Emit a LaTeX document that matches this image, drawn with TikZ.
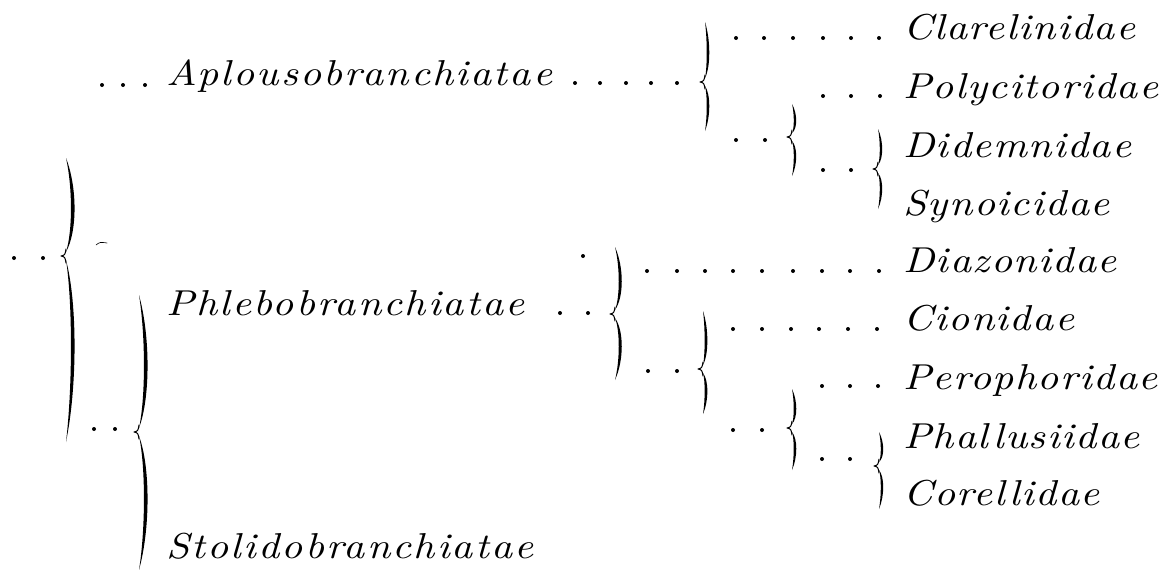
\documentclass[tikz,border=0pt]{standalone}
\usepackage{fontspec}
\newfontfamily\engraved{lmroman10-italic.otf}[FakeStretch=1.15, LetterSpace=4]
\newfontfamily\engravedwide{lmroman10-italic.otf}[FakeStretch=1.15, LetterSpace=6]

% tapered brace: #1 x of the tips, #2 top, #3 cusp, #4 bottom, #5 bulge, #6 half thickness
\newcommand\tbrace[6]{%
  \fill[ink] (#1,#2) .. controls ({#1+#5+#6},{#2+0.3*(#3-#2)}) and ({#1+#5+#6},{#2+0.75*(#3-#2)}) .. (#1,{#3-4})
     .. controls ({#1+#5-#6},{#2+0.75*(#3-#2)}) and ({#1+#5-#6},{#2+0.3*(#3-#2)}) .. cycle;
  \fill[ink] (#1,{#3+4}) .. controls ({#1+#5+#6},{#4-0.75*(#4-#3)}) and ({#1+#5+#6},{#4-0.3*(#4-#3)}) .. (#1,#4)
     .. controls ({#1+#5-#6},{#4-0.3*(#4-#3)}) and ({#1+#5-#6},{#4-0.75*(#4-#3)}) .. cycle;
  \draw[ink, line width=1pt, line cap=round, line join=round]
     (#1,{#3-7}) .. controls ({#1-1},{#3-1}) .. ({#1-5},#3) .. controls ({#1-1},{#3+1}) .. (#1,{#3+7});
}

\begin{document}
\begin{tikzpicture}[x=1pt,y=-1pt]
\tikzset{
  ink/.style={black},
  taxon/.style={anchor=base west, inner sep=0pt, text=black,
                font=\engraved\fontsize{36}{36}\selectfont},
  suborder/.style={taxon, font=\engravedwide\fontsize{36}{36}\selectfont},
}
\useasboundingbox (0,0) rectangle (1168,570);

% suborders
\node[suborder] (aplous)  at (166,85)  {Aplousobranchiatae};
\node[suborder] (phlebo)  at (166,315) {Phlebobranchiatae};
\node[suborder] (stolido) at (166,558) {Stolidobranchiatae};

% families
\node[taxon] (clarel) at (903,39)  {Clarelinidae};
\node[taxon] (polyc)  at (903,98)  {Polycitoridae};
\node[taxon] (didem)  at (903,157) {Didemnidae};
\node[taxon] (synoi)  at (903,215) {Synoicidae};
\node[taxon] (diazo)  at (903,272) {Diazonidae};
\node[taxon] (cioni)  at (903,330) {Cionidae};
\node[taxon] (perop)  at (903,389) {Perophoridae};
\node[taxon] (phall)  at (903,448) {Phallusiidae};
\node[taxon] (corel)  at (903,505) {Corellidae};

% dotted leaders
\foreach \x/\y in {14/258, 43/258,
    102/85, 123/85, 145/85,
    575/83, 600/83, 626/83, 651/83, 677/83,
    736/38, 764/38, 793/38, 823/38, 851/38, 879/38,
    823/96, 851/96, 880/96,
    736/140, 765/140,
    823/170, 851/170,
    94/429, 115/429,
    560/313, 588/313, 583/256,
    647/271, 677/271, 705/271, 733/271, 762/271, 793/271, 822/271, 850/271, 879/271,
    733/329, 762/329, 791/329, 819/329, 848/329, 877/329,
    648/371, 677/371,
    822/386, 850/386, 878/386,
    733/430, 762/430,
    822/459, 850/459}
  \fill[ink] (\x,\y) circle[radius=2pt];

% braces
\tbrace{66}{158}{256}{442}{9}{2.4}
\tbrace{139}{295}{432}{570}{9}{2.4}
\tbrace{705}{22}{82}{131}{4}{1.7}
\tbrace{615}{247}{314}{380}{7}{2}
\tbrace{792}{104}{137}{176}{4}{1.6}
\tbrace{878}{129}{169}{209}{4}{1.6}
\tbrace{703}{311}{369}{414}{4}{1.8}
\tbrace{792}{389}{428}{470}{4}{1.7}
\tbrace{879}{432}{466}{509}{4}{1.6}

% small stray tick beside the first brace
\draw[ink, line width=0.6pt, line cap=round] (96,245) .. controls (100,242) .. (107,243);
\end{tikzpicture}
\end{document}
